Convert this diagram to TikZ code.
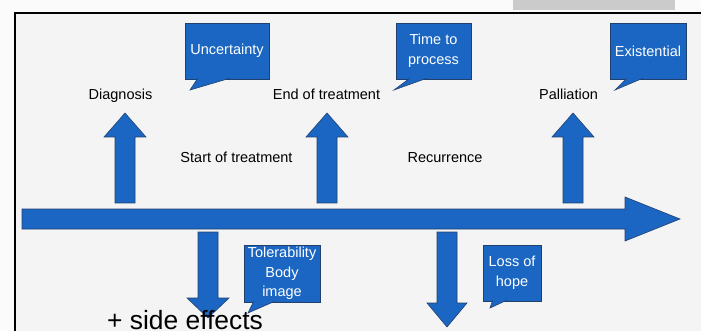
\documentclass[tikz,border=0pt]{standalone}
\usepackage{fontspec}
\setmainfont{Liberation Sans}
\usetikzlibrary{calc}
\definecolor{arrowblue}{HTML}{1A66C2}
\definecolor{edgeblue}{HTML}{22406E}
\definecolor{paper}{HTML}{F4F4F4}
\definecolor{outside}{HTML}{FBFBFB}
\definecolor{tabgray}{HTML}{CBCBCB}

\begin{document}
\begin{tikzpicture}[x=1pt, y=-1pt,
    blk/.style={fill=arrowblue, draw=edgeblue, line width=0.6pt, line join=miter},
    bubble/.style={blk, text=white, align=center, inner sep=1pt, font=\fontsize{14.5}{19.5}\selectfont},
    lbl/.style={anchor=base, inner sep=0pt, font=\fontsize{14.5}{17}\selectfont}]
    \useasboundingbox (0,0) rectangle (701,331);
    \fill[outside] (0,0) rectangle (701,331);
    \fill[paper] (15,13) rectangle (701,331);
    \fill[tabgray] (513,0) rectangle (675,10);
    \draw[line width=1.5pt] (15,331) -- (15,13) -- (701,13);

    \draw[blk] (22,209) -- (625,209) -- (625,197) -- (680,219) -- (625,241) -- (625,229) -- (22,229) -- cycle;
    \foreach \cx in {125,327,573}
        \draw[blk] (\cx-10,203) -- (\cx-10,137) -- (\cx-21,137) -- (\cx,113) -- (\cx+21,137) -- (\cx+10,137) -- (\cx+10,203) -- cycle;
    \draw[blk] (198,232) -- (198,298) -- (187,298) -- (208,318) -- (229,298) -- (218,298) -- (218,232) -- cycle;
    \draw[blk] (437,232) -- (437,303) -- (427,303) -- (447,327) -- (467,303) -- (457,303) -- (457,232) -- cycle;

    \node[bubble, minimum width=84pt, minimum height=56pt] (unc) at (227,51) {Uncertainty};
    \node[bubble, minimum width=75pt, minimum height=56pt] (time) at (433.5,51) {Time to\\process};
    \node[bubble, minimum width=76pt, minimum height=56pt] (exis) at (648,51) {Existential};
    \node[bubble, minimum width=76pt, minimum height=57pt] (toler) at (282,273.5) {Tolerability\\Body\\image};
    \node[bubble, minimum width=58pt, minimum height=56pt] (hope) at (512,273) {Loss of\\hope};

    \coordinate (unctip) at (190,90);
    \coordinate (timetip) at (394,90);
    \coordinate (existip) at (615,90);
    \coordinate (tolertip) at (248,313);
    \coordinate (hopetip) at (490,308);
    \path[blk] ($(unc.south west)+(13,-1)$) -- (unctip) -- ($(unc.south west)+(45,-1)$);
    \path[blk] ($(time.south west)+(14,-1)$) -- (timetip) -- ($(time.south west)+(31,-1)$);
    \path[blk] ($(exis.south west)+(17,-1)$) -- (existip) -- ($(exis.south west)+(33,-1)$);
    \path[blk] ($(toler.south west)+(10,-1)$) -- (tolertip) -- ($(toler.south west)+(31,-1)$);
    \path[blk] ($(hope.south west)+(10,-1)$) -- (hopetip) -- ($(hope.south west)+(24,-1)$);

    \node[lbl] (diag) at (120.5,100) {Diagnosis};
    \node[lbl] (endtr) at (326.5,100) {End of treatment};
    \node[lbl] (pall) at (568.5,100) {Palliation};
    \node[lbl] (start) at (236.5,163) {Start of treatment};
    \node[lbl] (recur) at (445,163) {Recurrence};
    \node[anchor=base, inner sep=0pt, font=\fontsize{26.4}{30}\selectfont] (side) at (185,329) {+ side effects};
\end{tikzpicture}
\end{document}
